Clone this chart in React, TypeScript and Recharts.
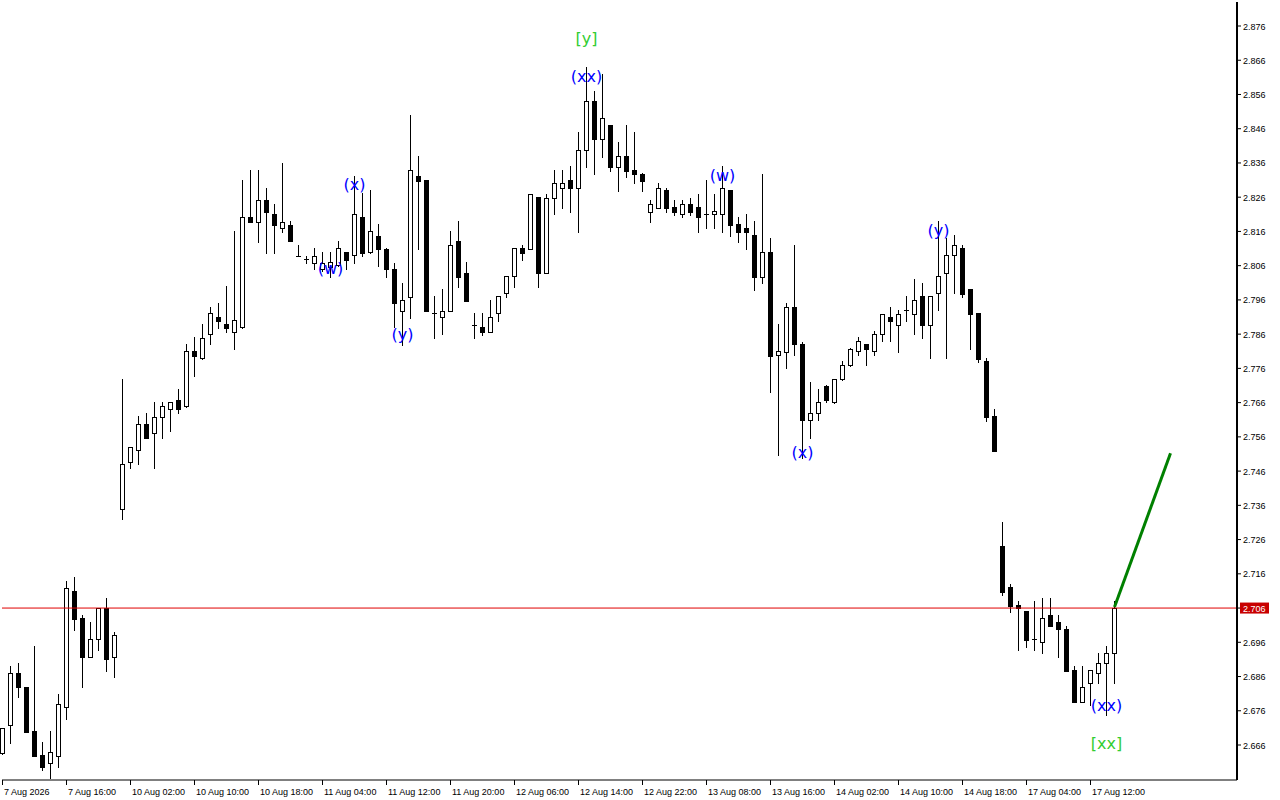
import React from 'react';
import { ComposedChart, Bar, Line, XAxis, YAxis, ReferenceLine, ReferenceDot } from 'recharts';

const opens = [
  2.6637, 2.6717, 2.6869, 2.6828, 2.6701, 2.6631, 2.6608, 2.6629, 2.6770, 2.7110,
  2.7031, 2.6918, 2.6969, 2.7059, 2.6918, 2.7348, 2.7487, 2.7521, 2.7599, 2.7570,
  2.7619, 2.7640, 2.7669, 2.7649, 2.7810, 2.7789, 2.7859, 2.7910, 2.7889, 2.7867,
  2.7880, 2.8201, 2.8189, 2.8251, 2.8210, 2.8169, 2.8180, 2.8089, 2.8079, 2.8068,
  2.8049, 2.8057, 2.8061, 2.8100, 2.8090, 2.8201, 2.8099, 2.8148, 2.8110, 2.8049,
  2.7928, 2.7969, 2.8321, 2.8310, 2.7921, 2.7909, 2.7929, 2.8131, 2.8040, 2.7888,
  2.7881, 2.7867, 2.7921, 2.7979, 2.8029, 2.8111, 2.8110, 2.8260, 2.8039, 2.8259,
  2.8288, 2.8309, 2.8288, 2.8399, 2.8540, 2.8429, 2.8470, 2.8349, 2.8379, 2.8339,
  2.8329, 2.8218, 2.8229, 2.8280, 2.8230, 2.8211, 2.8239, 2.8230, 2.8211, 2.8210,
  2.8210, 2.8281, 2.8181, 2.8169, 2.8149, 2.8027, 2.8099, 2.7798, 2.7808, 2.7939,
  2.7830, 2.7608, 2.7629, 2.7710, 2.7661, 2.7728, 2.7769, 2.7810, 2.7830, 2.7810,
  2.7859, 2.7909, 2.7888, 2.7930, 2.7919, 2.7970, 2.7888, 2.7979, 2.8040, 2.8090,
  2.8111, 2.7992, 2.7921, 2.7781, 2.7621, 2.7241, 2.7121, 2.7069, 2.7051, 2.6969,
  2.6960, 2.7040, 2.7019, 2.6999, 2.6879, 2.6786, 2.6840, 2.6869, 2.6899, 2.6928,
];
const highs = [
  2.6710, 2.6891, 2.6899, 2.6829, 2.6949, 2.6669, 2.6701, 2.6809, 2.7139, 2.7151,
  2.7040, 2.7020, 2.7060, 2.7089, 2.6991, 2.7729, 2.7530, 2.7621, 2.7629, 2.7662,
  2.7662, 2.7662, 2.7700, 2.7831, 2.7851, 2.7889, 2.7940, 2.7951, 2.8000, 2.8162,
  2.8310, 2.8339, 2.8339, 2.8288, 2.8240, 2.8360, 2.8190, 2.8120, 2.8089, 2.8112,
  2.8100, 2.8100, 2.8133, 2.8101, 2.8321, 2.8271, 2.8281, 2.8181, 2.8111, 2.8069,
  2.8009, 2.8500, 2.8380, 2.8311, 2.7971, 2.7992, 2.8161, 2.8190, 2.8070, 2.7921,
  2.7921, 2.7959, 2.7971, 2.8030, 2.8112, 2.8120, 2.8269, 2.8261, 2.8268, 2.8339,
  2.8339, 2.8351, 2.8450, 2.8639, 2.8570, 2.8619, 2.8471, 2.8420, 2.8470, 2.8450,
  2.8330, 2.8251, 2.8300, 2.8288, 2.8251, 2.8251, 2.8259, 2.8270, 2.8310, 2.8269,
  2.8351, 2.8282, 2.8201, 2.8211, 2.8190, 2.8329, 2.8140, 2.7889, 2.7950, 2.8120,
  2.7838, 2.7719, 2.7699, 2.7711, 2.7729, 2.7781, 2.7819, 2.7851, 2.7831, 2.7870,
  2.7920, 2.7938, 2.7930, 2.7970, 2.8020, 2.8008, 2.7971, 2.8190, 2.8140, 2.8149,
  2.8120, 2.7993, 2.7922, 2.7789, 2.7640, 2.7311, 2.7130, 2.7081, 2.7052, 2.7081,
  2.7088, 2.7088, 2.7039, 2.7009, 2.6891, 2.6891, 2.6879, 2.6928, 2.6949, 2.7081,
];
const lows = [
  2.6635, 2.6667, 2.6799, 2.6697, 2.6628, 2.6587, 2.6564, 2.6597, 2.6737, 2.6996,
  2.6828, 2.6917, 2.6937, 2.6877, 2.6858, 2.7319, 2.7468, 2.7481, 2.7557, 2.7468,
  2.7558, 2.7578, 2.7629, 2.7648, 2.7738, 2.7788, 2.7830, 2.7879, 2.7867, 2.7817,
  2.7879, 2.8188, 2.8130, 2.8098, 2.8098, 2.8159, 2.8131, 2.8089, 2.8068, 2.8049,
  2.8044, 2.8027, 2.8060, 2.8049, 2.8068, 2.8089, 2.8098, 2.8060, 2.8027, 2.7881,
  2.7828, 2.7908, 2.8110, 2.7927, 2.7849, 2.7860, 2.7928, 2.7998, 2.7956, 2.7849,
  2.7857, 2.7866, 2.7899, 2.7969, 2.7998, 2.8077, 2.8109, 2.7998, 2.8038, 2.8210,
  2.8229, 2.8217, 2.8159, 2.8349, 2.8327, 2.8378, 2.8337, 2.8279, 2.8319, 2.8300,
  2.8279, 2.8189, 2.8228, 2.8217, 2.8208, 2.8201, 2.8208, 2.8159, 2.8169, 2.8169,
  2.8159, 2.8146, 2.8130, 2.8108, 2.7989, 2.8008, 2.7690, 2.7508, 2.7760, 2.7798,
  2.7498, 2.7557, 2.7608, 2.7661, 2.7660, 2.7727, 2.7768, 2.7798, 2.7769, 2.7798,
  2.7839, 2.7839, 2.7808, 2.7899, 2.7859, 2.7849, 2.7789, 2.7930, 2.7789, 2.7979,
  2.7969, 2.7817, 2.7779, 2.7607, 2.7518, 2.7098, 2.7049, 2.6937, 2.6947, 2.6937,
  2.6928, 2.7007, 2.6918, 2.6876, 2.6785, 2.6785, 2.6777, 2.6840, 2.6748, 2.6840,
];
const closes = [
  2.6709, 2.6869, 2.6828, 2.6699, 2.6629, 2.6597, 2.6639, 2.6779, 2.7120, 2.7029,
  2.6918, 2.6969, 2.7059, 2.6910, 2.6980, 2.7480, 2.7529, 2.7599, 2.7558, 2.7619,
  2.7649, 2.7661, 2.7640, 2.7810, 2.7797, 2.7850, 2.7921, 2.7899, 2.7879, 2.7900,
  2.8201, 2.8189, 2.8251, 2.8217, 2.8180, 2.8189, 2.8132, 2.8089, 2.8079, 2.8089,
  2.8068, 2.8070, 2.8111, 2.8078, 2.8210, 2.8098, 2.8160, 2.8110, 2.8049, 2.7950,
  2.7959, 2.8338, 2.8308, 2.7928, 2.7921, 2.7929, 2.8119, 2.8027, 2.7957, 2.7888,
  2.7867, 2.7909, 2.7970, 2.8029, 2.8111, 2.8098, 2.8268, 2.8039, 2.8259, 2.8300,
  2.8300, 2.8288, 2.8399, 2.8540, 2.8429, 2.8490, 2.8349, 2.8379, 2.8337, 2.8328,
  2.8308, 2.8240, 2.8288, 2.8229, 2.8218, 2.8239, 2.8218, 2.8201, 2.8211, 2.8219,
  2.8288, 2.8179, 2.8159, 2.8159, 2.8027, 2.8099, 2.7796, 2.7810, 2.7939, 2.7830,
  2.7608, 2.7629, 2.7661, 2.7669, 2.7728, 2.7769, 2.7818, 2.7839, 2.7818, 2.7859,
  2.7919, 2.7899, 2.7919, 2.7930, 2.7959, 2.7888, 2.7970, 2.8029, 2.8090, 2.8120,
  2.7978, 2.7919, 2.7788, 2.7619, 2.7519, 2.7108, 2.7067, 2.7059, 2.6967, 2.6969,
  2.7031, 2.7008, 2.6998, 2.6877, 2.6786, 2.6828, 2.6878, 2.6899, 2.6928, 2.7061,
];

const SLOTS = 154;

const tickIdx = [0, 8, 16, 24, 32, 40, 48, 56, 64, 72, 80, 88, 96, 104, 112, 120, 128, 136];
const tickLabels = [
  '7 Aug 2026', '7 Aug 16:00', '10 Aug 02:00', '10 Aug 10:00', '10 Aug 18:00', '11 Aug 04:00',
  '11 Aug 12:00', '11 Aug 20:00', '12 Aug 06:00', '12 Aug 14:00', '12 Aug 22:00', '13 Aug 08:00',
  '13 Aug 16:00', '14 Aug 02:00', '14 Aug 10:00', '14 Aug 18:00', '17 Aug 04:00', '17 Aug 12:00',
];
const priceTicks = [
  2.666, 2.676, 2.686, 2.696, 2.706, 2.716, 2.726, 2.736, 2.746, 2.756, 2.766,
  2.776, 2.786, 2.796, 2.806, 2.816, 2.826, 2.836, 2.846, 2.856, 2.866, 2.876,
];
const priceDomain = [2.65578, 2.88301];
const lastPrice = 2.706;

const projIdx = [139, 146];
const projVal = [2.7063, 2.7512];

const waveIdx = [73, 73, 44, 41, 50, 90, 100, 117, 138, 138];
const waveText = ['[y]', '(xx)', '(x)', '(w)', '(y)', '(w)', '(x)', '(y)', '(xx)', '[xx]'];
const wavePrice = [2.8722, 2.8611, 2.8295, 2.8051, 2.7857, 2.8322, 2.7513, 2.8162, 2.6774, 2.6664];
const waveColor = ['#32cd32', '#0000ff', '#0000ff', '#0000ff', '#0000ff', '#0000ff', '#0000ff', '#0000ff', '#0000ff', '#32cd32'];

const data = Array.from({ length: SLOTS }, (_, i) => {
  const has = i < opens.length;
  const pj = projIdx.indexOf(i);
  return {
    i,
    open: has ? opens[i] : null,
    high: has ? highs[i] : null,
    low: has ? lows[i] : null,
    close: has ? closes[i] : null,
    range: has ? [lows[i], highs[i]] : null,
    proj: pj >= 0 ? projVal[pj] : null,
  };
});

const FONT = '"Liberation Sans", Arial, sans-serif';

const Candle = (props: any) => {
  const { x, y, width, height, payload } = props;
  if (!payload || payload.open == null || x == null || y == null) return null;
  const { open, high, low, close } = payload;
  const top = Math.min(y, y + height);
  const bot = Math.max(y, y + height);
  const span = high - low;
  const py = (p: number) => Math.round(span > 0 ? top + ((high - p) / span) * (bot - top) : top);
  const cx = Math.floor(x + width / 2) + 0.5;
  const yH = py(high);
  const yL = py(low);
  const yO = py(open);
  const yC = py(close);
  let body: React.ReactNode;
  if (close > open) {
    body = (
      <rect x={cx - 2} y={yC + 0.5} width={4} height={Math.max(yO - yC, 1)} fill="#ffffff" stroke="#000000" strokeWidth={1} />
    );
  } else if (close < open) {
    body = <rect x={cx - 2.5} y={yO} width={5} height={Math.max(yC - yO, 1) + 1} fill="#000000" />;
  } else {
    body = <line x1={cx - 2.5} x2={cx + 2.5} y1={yO + 0.5} y2={yO + 0.5} stroke="#000000" strokeWidth={1} />;
  }
  return (
    <g>
      <line x1={cx} x2={cx} y1={yH} y2={yL + 1} stroke="#000000" strokeWidth={1} />
      {body}
    </g>
  );
};

const TimeTick = (props: any) => {
  const { x, y, payload } = props;
  const j = tickIdx.indexOf(payload.value);
  if (j < 0) return null;
  const px = Math.floor(x) + 0.5;
  return (
    <g>
      <line x1={px} x2={px} y1={y} y2={y + 5} stroke="#000000" strokeWidth={1} />
      <text x={px + 1.5} y={y + 15} fontFamily={FONT} fontSize={9} fill="#000000" textAnchor="start">
        {tickLabels[j]}
      </text>
    </g>
  );
};

const PriceTick = (props: any) => {
  const { x, y, payload } = props;
  const v = payload.value as number;
  const isLast = Math.abs(v - lastPrice) < 1e-6;
  if (isLast) {
    return (
      <g>
        <rect x={x - 3} y={y - 5.5} width={29} height={11} fill="#c80000" />
        <text x={x} y={y + 3.5} fontFamily={FONT} fontSize={9} fill="#ffffff" textAnchor="start">
          {v.toFixed(3)}
        </text>
      </g>
    );
  }
  return (
    <text x={x} y={y + 3.5} fontFamily={FONT} fontSize={9} fill="#000000" textAnchor="start">
      {v.toFixed(3)}
    </text>
  );
};

export default function App() {
  return (
    <div style={{ position: 'absolute', left: 0, top: 0, width: 1280, height: 800, background: '#ffffff' }}>
      <ComposedChart
        width={1280}
        height={800}
        data={data}
        margin={{ top: 2, right: 0, bottom: 0, left: 2 }}
        barCategoryGap={0}
        barGap={0}
      >
        <XAxis
          dataKey="i"
          type="category"
          ticks={tickIdx}
          interval={0}
          height={20}
          tickSize={0}
          tickMargin={0}
          tickLine={false}
          axisLine={{ stroke: '#000000', strokeWidth: 1 }}
          tick={<TimeTick />}
          padding={{ left: -3.5, right: 6.5 }}
        />
        <XAxis
          xAxisId="top"
          dataKey="i"
          orientation="top"
          height={0}
          tick={false}
          tickLine={false}
          axisLine={{ stroke: '#000000', strokeWidth: 1 }}
        />
        <YAxis
          yAxisId="left"
          orientation="left"
          width={0}
          type="number"
          domain={[0, 1]}
          tick={false}
          tickLine={false}
          axisLine={{ stroke: '#000000', strokeWidth: 1 }}
        />
        <YAxis
          orientation="right"
          type="number"
          width={43}
          domain={priceDomain}
          allowDataOverflow
          ticks={priceTicks}
          interval={0}
          tickSize={4}
          tickMargin={2}
          tickLine={{ stroke: '#000000', strokeWidth: 1 }}
          axisLine={{ stroke: '#000000', strokeWidth: 2 }}
          tick={<PriceTick />}
        />
        <ReferenceLine y={lastPrice} stroke="#e00000" strokeWidth={1} />
        <Bar dataKey="range" shape={<Candle />} isAnimationActive={false} />
        <Line
          dataKey="proj"
          connectNulls
          stroke="#008000"
          strokeWidth={3}
          dot={false}
          activeDot={false}
          isAnimationActive={false}
        />
        {waveIdx.map((k, j) => (
          <ReferenceDot
            key={j}
            x={k}
            y={wavePrice[j]}
            r={0}
            ifOverflow="visible"
            shape={(p: any) => (
              <text
                x={p.cx}
                y={p.cy + 5}
                textAnchor="middle"
                fontFamily='"DejaVu Sans", sans-serif'
                fontSize={16}
                fill={waveColor[j]}
              >
                {waveText[j]}
              </text>
            )}
          />
        ))}
      </ComposedChart>
    </div>
  );
}
